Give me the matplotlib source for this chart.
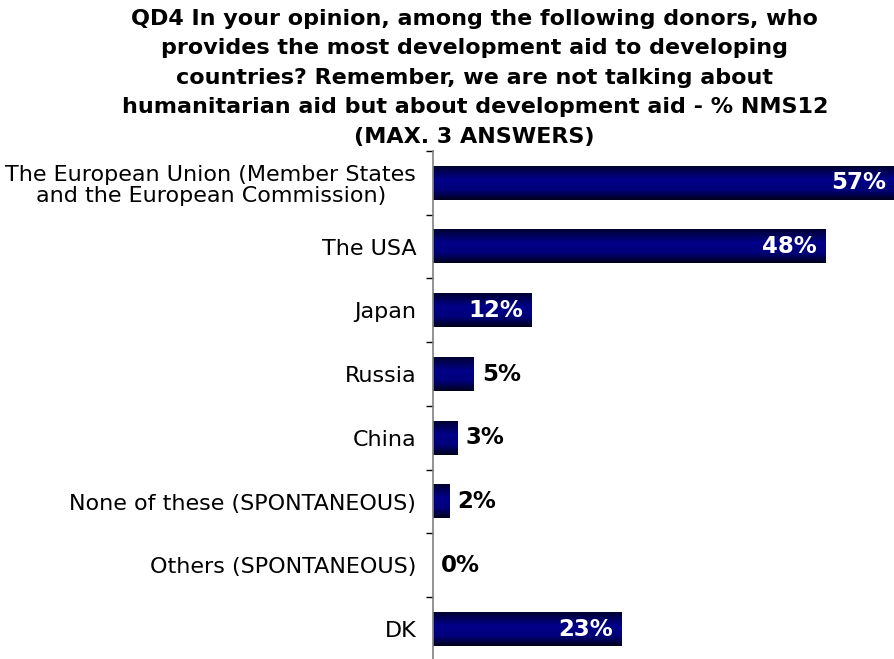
import matplotlib
matplotlib.use('Agg')
import matplotlib.pyplot as plt
import numpy as np

# données
categories = ['The European Union (Member States\nand the European Commission)',
              'The USA', 'Japan', 'Russia', 'China',
              'None of these (SPONTANEOUS)', 'Others (SPONTANEOUS)', 'DK']
valeurs = [57, 48, 12, 5, 3, 2, 0, 23]
titre = ('QD4 In your opinion, among the following donors, who\n'
         'provides the most development aid to developing\n'
         'countries? Remember, we are not talking about\n'
         'humanitarian aid but about development aid - % NMS12\n'
         '(MAX. 3 ANSWERS)')

fig = plt.figure(figsize=(8.94, 6.59), dpi=100)
ax = fig.add_axes([0.4843, -0.003, 0.5157, 0.774])

n = len(categories)
y = np.arange(n)
h = 0.53

# dégradé vertical des barres (bords sombres, centre plus clair)
t = np.linspace(0, 1, 64)
bleu = np.interp(t, [0, 0.4, 0.7, 1], [0.20, 0.54, 0.48, 0.12])
grad = np.zeros((64, 2, 3))
grad[:, :, 2] = bleu[:, None]

xmax = 56.4
for i, v in enumerate(valeurs):
    if v > 0:
        ax.imshow(grad, extent=[0, v, i + h / 2, i - h / 2], aspect='auto',
                  interpolation='bilinear', zorder=2)
    if v >= 10:
        ax.text(min(v, xmax) - 1.0, i, '%d%%' % v, ha='right', va='center',
                color='white', fontsize=16.5, fontweight='bold', zorder=3)
    else:
        ax.text(v + 1.0, i, '%d%%' % v, ha='left', va='center',
                color='black', fontsize=16.5, fontweight='bold', zorder=3)

ax.set_xlim(0, xmax)
ax.set_ylim(n - 0.5, -0.5)
ax.set_yticks(y)
ax.set_yticklabels(categories, fontsize=16)
ax.tick_params(axis='y', length=0, pad=12)
ax.set_yticks(np.arange(-0.5, n, 1), minor=True)
ax.tick_params(axis='y', which='minor', length=5, width=1, color='black')
ax.set_xticks([])
for s in ['top', 'right', 'bottom']:
    ax.spines[s].set_visible(False)
ax.spines['left'].set_color('#808080')
ax.spines['left'].set_linewidth(1.2)

for lab in ax.get_yticklabels():
    lab.set_horizontalalignment('right')
    lab.set_multialignment('center')
    lab.set_linespacing(1.05)

fig.text(0.531, 0.987, titre, ha='center', va='top', fontsize=16,
         fontweight='bold', linespacing=1.6)

fig.savefig('out.png', dpi=100)
